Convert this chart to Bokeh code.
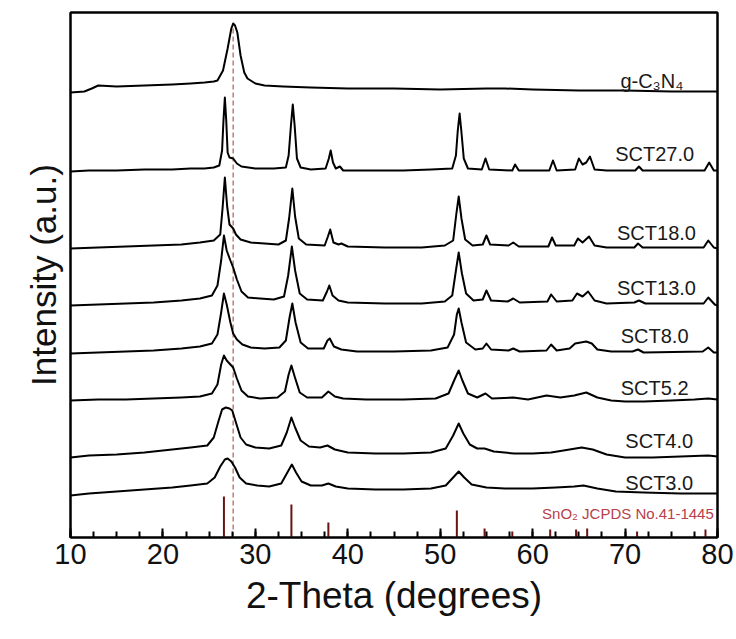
from bokeh.plotting import figure
from bokeh.models import Range1d, FixedTicker, ColumnDataSource, LinearAxis
from bokeh.core.properties import value
from bokeh.embed import file_html
from bokeh.resources import INLINE

FONT = "Liberation Sans"

# ---------------- data ----------------
sample_names = ["g-C₃N₄", "SCT27.0", "SCT18.0", "SCT13.0", "SCT8.0", "SCT5.2", "SCT4.0", "SCT3.0"]
# vertical stacking offset of each pattern (a.u.)
offsets = [446, 367, 289, 232, 185, 137, 80, 44]

gcn_tt = [10, 11.5, 12.3, 13.0, 15, 18, 21, 23, 24.5, 25.5, 25.9, 26.5, 27.0, 27.4, 27.6, 27.8,
          28.05, 28.4, 28.8, 29.15, 30, 31, 33, 36, 40, 45, 50, 55, 57, 60, 65, 70, 75, 80]
gcn_int = [-1, 0, 3, 6, 5, 6, 7, 8, 9, 10, 11, 21, 43, 63, 68, 66,
           59, 36, 19, 13, 8, 6, 5, 4, 3, 3, 2, 3, 3, 2, 1, 1, 0, 0]

sct27_tt = [10, 12, 15, 18, 21, 23, 24.5, 25.5, 26.1, 26.4, 26.55, 26.7, 26.85, 27.0, 27.2, 27.6,
            28.0, 28.5, 30, 32, 33.3, 33.6, 33.85, 34.05, 34.25, 34.5, 34.9, 36, 37.6, 37.95,
            38.15, 38.4, 38.7, 39.15, 39.5, 42, 46, 49, 51.3, 51.7, 51.9, 52.1, 52.3, 52.55, 53,
            54.5, 54.9, 55.3, 57.8, 58.1, 58.5, 61.8, 62.2, 62.6, 64.6, 65.0, 65.4, 65.8, 66.2,
            66.7, 68, 71.1, 71.5, 71.9, 78.6, 79.1, 79.6, 80]
sct27_int = [-1, 0, 0, 1, 1, 2, 2, 3, 5, 20, 50, 73, 50, 18, 13, 12,
             7, 4, 2, 2, 3, 15, 45, 66, 45, 12, 3, 1, 2, 12,
             20, 8, 2, 4, 0, 0, 0, 1, 2, 15, 40, 57, 38, 12, 2,
             1, 12, 1, 0, 6, 0, 0, 10, 0, 1, 12, 6, 8, 14,
             1, 0, 0, 4, 0, 0, 8, 0, 0]

sct18_tt = [10, 13, 16, 19, 22, 24, 25.5, 26.2, 26.45, 26.7, 26.95, 27.2, 27.6, 27.9, 28.4, 29.5,
            31, 32.5, 33.3, 33.65, 34.0, 34.3, 34.7, 35.5, 37.5, 37.85, 38.1, 38.45, 39.0, 39.3,
            40, 44, 48, 50.5, 51.4, 51.75, 52.0, 52.3, 52.7, 53.5, 54.6, 55.0, 55.4, 57.4, 57.9,
            58.5, 61.7, 62.1, 62.5, 64.5, 64.9, 65.4, 66.1, 66.7, 68, 71.0, 71.4, 71.9, 78.5,
            79.0, 79.6, 80]
sct18_int = [0, 1, 2, 3, 4, 6, 8, 14, 40, 71, 42, 24, 20, 14, 9, 6,
             5, 4, 8, 30, 60, 32, 10, 4, 3, 12, 19, 6, 4, 5,
             2, 1, 1, 3, 8, 35, 52, 30, 9, 3, 4, 13, 4, 3, 6,
             2, 2, 11, 3, 3, 10, 6, 12, 3, 1, 1, 5, 1, 1,
             8, 1, 0]

sct13_tt = [10, 13, 16, 19, 22, 24, 25.3, 25.9, 26.3, 26.6, 26.9, 27.3, 27.6, 28.0, 28.5, 29.2,
            30.5, 32.0, 33.1, 33.55, 33.95, 34.3, 34.8, 35.6, 37.3, 37.75, 38.0, 38.35, 39.0, 40,
            44, 48, 50.5, 51.3, 51.7, 52.0, 52.35, 52.8, 53.6, 54.6, 55.0, 55.5, 57.3, 57.9, 58.6,
            61.6, 62.0, 62.6, 64.3, 64.8, 65.4, 66.0, 66.7, 68, 71.0, 71.5, 72.2, 78.5, 79.0,
            79.7, 80]
sct13_int = [0, 1, 2, 3, 5, 7, 10, 20, 45, 70, 55, 45, 38, 26, 14, 8,
             7, 6, 9, 30, 59, 35, 12, 6, 5, 14, 20, 10, 5, 3,
             2, 2, 4, 10, 35, 53, 32, 12, 5, 6, 15, 5, 4, 7, 3,
             4, 11, 4, 5, 12, 9, 14, 5, 2, 3, 5, 2, 2, 8,
             1, 0]

sct8_tt = [10, 13, 16, 19, 22, 24, 25.3, 25.9, 26.3, 26.6, 26.9, 27.3, 27.6, 28.0, 28.6, 29.5,
           31, 32.6, 33.3, 33.7, 34.0, 34.35, 34.9, 35.7, 37.4, 37.8, 38.05, 38.5, 39.3, 41,
           45, 49, 50.8, 51.5, 51.8, 52.0, 52.3, 52.8, 53.8, 54.6, 55.0, 55.5, 57.4, 57.9, 58.6,
           61.5, 62.0, 62.6, 64.0, 64.6, 65.2, 65.8, 66.4, 67.0, 68.5, 70.8, 71.4, 72.0, 78.4,
           79.0, 79.6, 80]
sct8_int = [-1, 0, 1, 2, 4, 6, 9, 18, 40, 59, 48, 30, 19, 13, 8, 5,
            4, 5, 12, 35, 49, 30, 10, 4, 4, 12, 14, 6, 3, 1,
            1, 2, 5, 18, 38, 44, 30, 10, 3, 4, 9, 3, 2, 4, 1,
            2, 8, 2, 4, 9, 10, 11, 9, 3, 1, 1, 3, 0, 1,
            5, 0, 0]

sct52_tt = [10, 13, 16, 19, 22, 24, 25.3, 25.9, 26.3, 26.6, 26.9, 27.3, 27.6, 28.0, 28.5, 29.2,
            30.5, 32.4, 33.2, 33.6, 33.9, 34.25, 34.8, 35.6, 37.2, 37.9, 38.6, 39.5, 42, 46,
            49.5, 50.9, 51.6, 52.0, 52.4, 53.0, 54.0, 54.9, 55.6, 57.9, 59.5, 61.5, 63.0, 64.5,
            65.8, 67.0, 68.5, 70, 72, 75, 77.5, 79.0, 80]
sct52_int = [0, 1, 1, 2, 3, 4, 7, 16, 36, 45, 40, 36, 33, 22, 10, 4,
             2, 3, 9, 26, 35, 24, 8, 3, 3, 9, 4, 2, 1, 1,
             2, 7, 22, 30, 20, 7, 3, 7, 2, 3, 1, 5, 3, 5,
             8, 3, 0, -1, -1, 0, 1, 2, 1]

sct4_tt = [10, 12, 15, 18, 21, 23, 24.8, 25.5, 26.0, 26.4, 26.8, 27.2, 27.5, 27.9, 28.4, 29.0,
           30.0, 31.5, 32.8, 33.4, 33.9, 34.3, 34.9, 35.8, 37.0, 37.8, 38.6, 40, 43, 46,
           49, 50.6, 51.4, 52.0, 52.5, 53.2, 54.0, 54.8, 55.8, 58, 60, 62, 64, 65.3,
           66.5, 68, 70, 73, 76, 79, 80]
sct4_int = [0, 2, 3, 5, 8, 10, 12, 20, 36, 48, 50, 49, 47, 35, 20, 13,
            10, 9, 12, 25, 40, 30, 17, 11, 10, 12, 8, 5, 4, 4,
            5, 9, 22, 34, 24, 13, 9, 9, 6, 4, 4, 5, 8, 10,
            8, 3, 0, 0, 1, 2, 1]

sct3_tt = [10, 12, 15, 18, 21, 23, 24.8, 25.6, 26.2, 26.7, 27.0, 27.4, 27.8, 28.3, 29.0, 30.2,
           31.5, 32.8, 33.4, 33.95, 34.4, 35.0, 36.0, 37.2, 37.9, 38.7, 40, 43, 46, 49,
           50.6, 51.4, 52.0, 52.6, 53.4, 55, 57, 60, 62.5, 64.5, 65.5, 67, 69, 72, 76, 80]
sct3_int = [-2, 0, 2, 4, 6, 8, 10, 16, 27, 34, 35, 32, 26, 16, 10, 8,
            7, 10, 20, 29, 21, 12, 8, 8, 10, 7, 5, 4, 4, 5,
            8, 16, 22, 16, 9, 6, 5, 5, 6, 7, 8, 5, 2, 1, 0, 0]

# SnO2 reference pattern (JCPDS No. 41-1445)
ref_tt = [26.6, 33.9, 37.9, 51.8, 54.8, 57.8, 61.9, 64.7, 65.9, 71.3, 78.7]
ref_int = [41, 33, 15, 27, 9, 6, 8, 8, 9, 6, 8]

gcn_peak_tt = 27.6
x_ticks = [10, 20, 30, 40, 50, 60, 70, 80]

# label placement (layout only)
label_tt = [72.9, 73.2, 73.4, 73.4, 73.2, 73.2, 73.7, 73.7]
label_y = [457, 384, 305, 250, 202, 150, 97, 55]

traces_tt = [gcn_tt, sct27_tt, sct18_tt, sct13_tt, sct8_tt, sct52_tt, sct4_tt, sct3_tt]
traces_int = [gcn_int, sct27_int, sct18_int, sct13_int, sct8_int, sct52_int, sct4_int, sct3_int]

# ---------------- figure ----------------
p = figure(frame_width=647, frame_height=525, output_backend="svg", toolbar_location=None,
           x_range=Range1d(10, 80), y_range=Range1d(0, 525),
           min_border_left=70, min_border_right=19, min_border_top=12, min_border_bottom=102,
           background_fill_color="white", border_fill_color="white")
p.grid.visible = False
p.outline_line_color = "black"
p.outline_line_width = 2

xa = p.below[0]
ya = p.left[0]

# frame lines on top and right
for side in ("above", "right"):
    ax = LinearAxis(ticker=FixedTicker(ticks=[]), axis_line_width=2, axis_line_color="black",
                    major_tick_line_color=None, minor_tick_line_color=None,
                    major_label_text_alpha=0)
    p.add_layout(ax, side)

# dashed guide at the g-C3N4 (002) peak
p.segment(x0=[gcn_peak_tt], y0=[0], x1=[gcn_peak_tt], y1=[offsets[0] + max(gcn_int)],
          line_color="#c48a7c", line_width=1.6, line_dash="5 3")

# reference sticks
p.segment(x0=ref_tt, y0=[0] * len(ref_tt), x1=ref_tt, y1=ref_int,
          line_color="#6b1212", line_width=2)
p.text(x=[79.6], y=[24], text=["SnO₂ JCPDS No.41-1445"], text_align="right",
       text_baseline="middle", text_font=value(FONT), text_font_size="15px",
       text_color="#b7404a")

for tt, inten, off in zip(traces_tt, traces_int, offsets):
    p.line(tt, [v + off for v in inten], line_color="black", line_width=2, line_join="round")

src = ColumnDataSource(dict(x=label_tt, y=label_y, t=sample_names))
p.text(x="x", y="y", text="t", source=src, text_align="center", text_baseline="middle",
       text_font=value(FONT), text_font_size="20px", text_color="#1a1a1a")

# x axis (bottom)
xa.ticker = FixedTicker(ticks=x_ticks, minor_ticks=[10 + 2.5 * i for i in range(29)])
xa.axis_label = "2-Theta (degrees)"
xa.axis_label_text_font = FONT
xa.axis_label_text_font_size = "37px"
xa.axis_label_text_font_style = "normal"
xa.axis_label_text_color = "#111111"
xa.axis_label_standoff = 8
xa.major_label_text_font = FONT
xa.major_label_text_font_size = "29px"
xa.major_label_text_color = "#111111"
xa.major_label_standoff = 6
xa.axis_line_width = 2
xa.major_tick_in = 9
xa.major_tick_out = 0
xa.minor_tick_in = 6
xa.minor_tick_out = 0
xa.major_tick_line_width = 2
xa.minor_tick_line_width = 2

# y axis (no ticks, no tick labels)
ya.ticker = FixedTicker(ticks=[])
ya.axis_label = "Intensity (a.u.)"
ya.axis_label_text_font = FONT
ya.axis_label_text_font_size = "35px"
ya.axis_label_text_font_style = "normal"
ya.axis_label_text_color = "#111111"
ya.axis_label_standoff = 8
ya.major_tick_line_color = None
ya.minor_tick_line_color = None
ya.axis_line_width = 2

open("out.html", "w").write(file_html(p, INLINE))
